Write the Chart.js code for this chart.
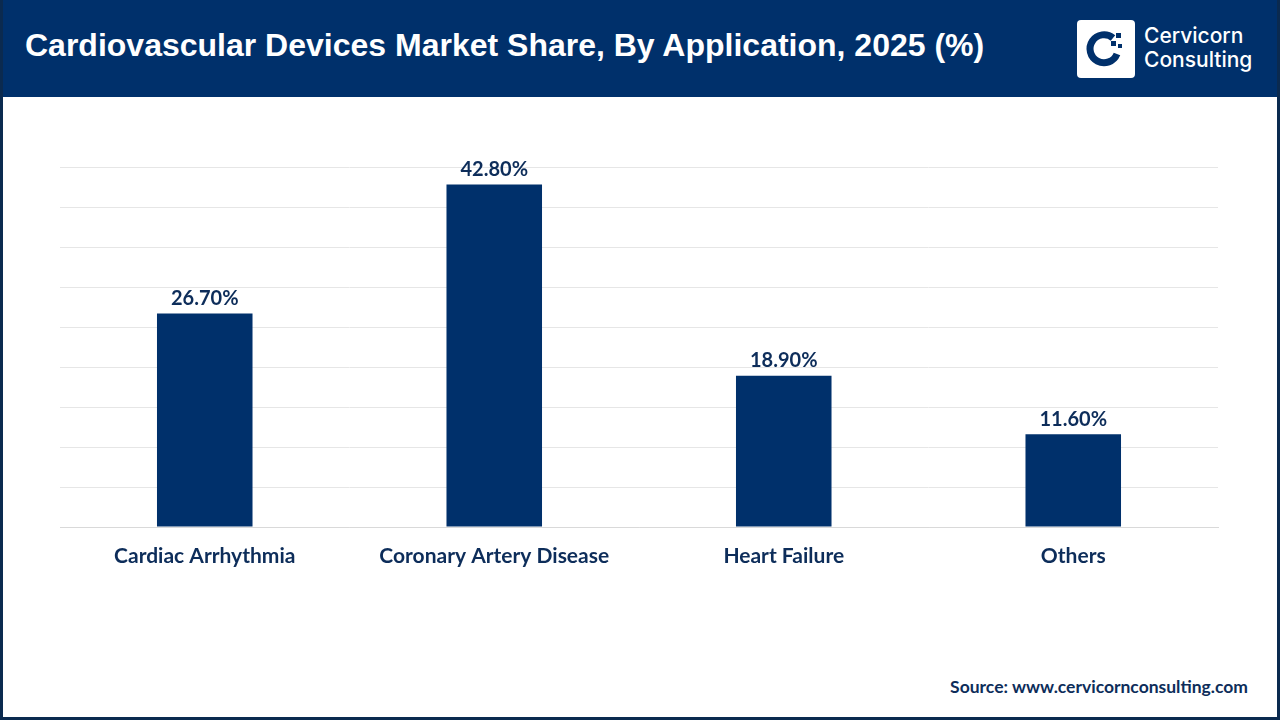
<!DOCTYPE html>
<html>
<head>
<meta charset="utf-8">
<script src="https://cdn.jsdelivr.net/npm/chart.js@4.4.1/dist/chart.umd.min.js"></script>
<style>
  html, body { margin: 0; padding: 0; background: #fff; }
  #frame {
    position: relative; width: 1280px; height: 720px; box-sizing: border-box;
    border: 3px solid #0b2a4f; border-top: none; overflow: hidden; background: #fff;
  }
  #header {
    position: absolute; left: -3px; top: 0; width: 1280px; height: 97px; background: #00306b;
  }
  #title {
    position: absolute; left: 25px; top: 27px; color: #fff;
    font: bold 32px "Liberation Sans", Arial, sans-serif; white-space: nowrap;
  }
  #logo-box {
    position: absolute; left: 1077px; top: 20px; width: 58px; height: 58px;
    background: #fff; border-radius: 4px;
  }
  #logo-text {
    position: absolute; left: 1144px; top: 24px; color: #fff;
    font: 500 21px Inter, "Noto Sans", sans-serif; line-height: 24px;
  }
  #chart-wrap { position: absolute; left: -3px; top: 97px; width: 1280px; height: 560px; }
  #source {
    position: absolute; right: 29px; top: 676px; color: #0d2d5a;
    font: bold 17.5px Lato, "Open Sans", sans-serif;
  }
</style>
</head>
<body>
<div id="frame">
  <div id="header">
    <div id="title">Cardiovascular Devices Market Share, By Application, 2025 (%)</div>
    <div id="logo-box">
      <svg width="58" height="58" viewBox="0 0 58 58">
        <path d="M36 18 A14 14 0 1 0 40 34" fill="none" stroke="#00306b" stroke-width="7"/>
        <rect x="39" y="13" width="5" height="5" fill="#00306b"/>
        <rect x="34" y="21" width="5" height="5" fill="#00306b"/>
        <rect x="41" y="24" width="4" height="4" fill="#00306b"/>
      </svg>
    </div>
    <div id="logo-text">Cervicorn<br>Consulting</div>
  </div>
  <div id="chart-wrap"><canvas id="chart"></canvas></div>
  <div id="source">Source: www.cervicornconsulting.com</div>
</div>
<script>
const categories = ['Cardiac Arrhythmia', 'Coronary Artery Disease', 'Heart Failure', 'Others'];
const shareValues = [26.7, 42.8, 18.9, 11.6];
const yMax = 45;
const yStep = 5;

const navy = '#00306b';
const textNavy = '#0d2d5a';

// value labels above each bar
const barLabels = {
  id: 'barLabels',
  afterDatasetsDraw(chart) {
    const ctx = chart.ctx;
    const meta = chart.getDatasetMeta(0);
    ctx.save();
    ctx.font = 'bold 20px Lato, "Open Sans", sans-serif';
    ctx.fillStyle = textNavy;
    ctx.textAlign = 'center';
    ctx.textBaseline = 'bottom';
    meta.data.forEach((bar, i) => {
      ctx.fillText(shareValues[i].toFixed(2) + '%', bar.x, bar.y - 5);
    });
    ctx.restore();
  }
};

new Chart(document.getElementById('chart'), {
  type: 'bar',
  data: {
    labels: categories,
    datasets: [{
      data: shareValues,
      backgroundColor: navy,
      barPercentage: 0.66,
      categoryPercentage: 0.5
    }]
  },
  options: {
    responsive: true,
    maintainAspectRatio: false,
    animation: false,
    layout: { padding: { left: 60, right: 62, top: 70, bottom: 80 } },
    plugins: { legend: { display: false }, tooltip: { enabled: false } },
    scales: {
      x: {
        grid: { display: false, drawTicks: false },
        border: { color: '#d9d9d9', width: 1 },
        ticks: {
          padding: 17,
          color: textNavy,
          font: { family: 'Lato, "Open Sans", sans-serif', size: 21, weight: 'bold' }
        },
        afterFit(scale) { scale.height = 50; }
      },
      y: {
        min: 0,
        max: yMax,
        ticks: { display: false, stepSize: yStep },
        grid: { color: '#e6e6e6', drawTicks: false },
        border: { display: false },
        afterFit(scale) { scale.width = 0; }
      }
    }
  },
  plugins: [barLabels]
});
</script>
</body>
</html>
